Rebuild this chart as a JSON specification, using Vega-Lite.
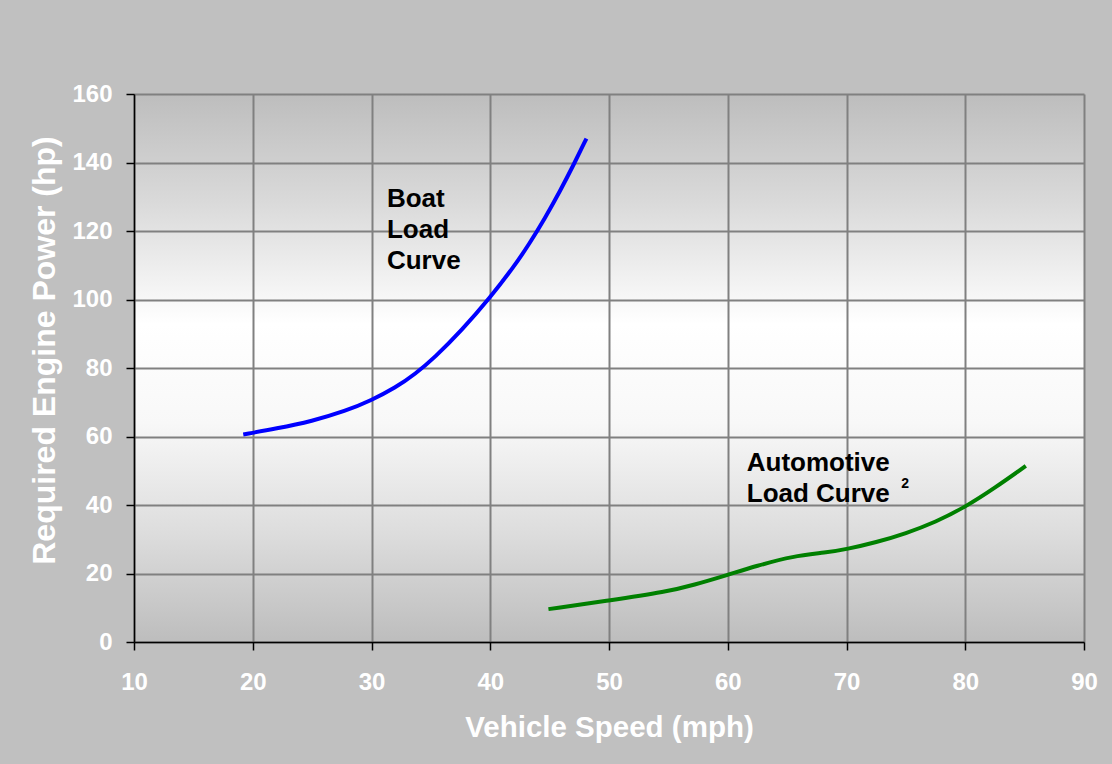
{
  "$schema": "https://vega.github.io/schema/vega-lite/v6.json",
  "width": 950,
  "height": 548,
  "autosize": {"type": "none"},
  "padding": {"left": 134, "top": 94, "right": 28, "bottom": 122},
  "background": "#c0c0c0",
  "config": {
    "font": "Liberation Sans",
    "view": {
      "stroke": null,
      "fill": {
        "gradient": "linear",
        "x1": 0, "y1": 0, "x2": 0, "y2": 1,
        "stops": [
          {"offset": 0, "color": "#bdbdbd"},
          {"offset": 0.2, "color": "#dadada"},
          {"offset": 0.42, "color": "#ffffff"},
          {"offset": 0.6, "color": "#f8f8f8"},
          {"offset": 0.8, "color": "#dddddd"},
          {"offset": 1, "color": "#bdbdbd"}
        ]
      }
    },
    "axis": {
      "domainColor": "#000000",
      "domainWidth": 1.5,
      "tickColor": "#000000",
      "tickWidth": 1.5,
      "tickSize": 8,
      "gridColor": "#808080",
      "gridWidth": 2,
      "gridOpacity": 1,
      "labelFlush": false,
      "labelColor": "#ffffff",
      "labelFont": "Liberation Sans",
      "labelFontWeight": "bold",
      "labelFontSize": 24,
      "titleColor": "#ffffff",
      "titleFont": "Liberation Sans",
      "titleFontWeight": "bold"
    }
  },
  "datasets": {
    "curves": [
      {"speed": 19.2, "power": 60.6, "series": "Boat"},
      {"speed": 22, "power": 62.3, "series": "Boat"},
      {"speed": 25, "power": 64.5, "series": "Boat"},
      {"speed": 27.8, "power": 67.4, "series": "Boat"},
      {"speed": 30, "power": 70.6, "series": "Boat"},
      {"speed": 32, "power": 74.2, "series": "Boat"},
      {"speed": 33.7, "power": 78.3, "series": "Boat"},
      {"speed": 35.3, "power": 83.0, "series": "Boat"},
      {"speed": 37.6, "power": 91.0, "series": "Boat"},
      {"speed": 40, "power": 100.6, "series": "Boat"},
      {"speed": 42, "power": 109.6, "series": "Boat"},
      {"speed": 43.3, "power": 116.3, "series": "Boat"},
      {"speed": 44.6, "power": 123.7, "series": "Boat"},
      {"speed": 45.9, "power": 131.8, "series": "Boat"},
      {"speed": 47, "power": 139.2, "series": "Boat"},
      {"speed": 48.1, "power": 147, "series": "Boat"},
      {"speed": 44.9, "power": 9.6, "series": "Automotive"},
      {"speed": 50, "power": 12.1, "series": "Automotive"},
      {"speed": 54.9, "power": 14.7, "series": "Automotive"},
      {"speed": 57.1, "power": 16.6, "series": "Automotive"},
      {"speed": 60, "power": 19.6, "series": "Automotive"},
      {"speed": 62.4, "power": 22.2, "series": "Automotive"},
      {"speed": 65.5, "power": 25.1, "series": "Automotive"},
      {"speed": 68.3, "power": 26.1, "series": "Automotive"},
      {"speed": 70, "power": 27.1, "series": "Automotive"},
      {"speed": 72.5, "power": 29.1, "series": "Automotive"},
      {"speed": 75, "power": 31.7, "series": "Automotive"},
      {"speed": 77.5, "power": 35, "series": "Automotive"},
      {"speed": 80, "power": 39.4, "series": "Automotive"},
      {"speed": 82.5, "power": 45, "series": "Automotive"},
      {"speed": 85.1, "power": 51.4, "series": "Automotive"}
    ],
    "notes": [
      {"speed": 31.3, "power": 127, "text": "Boat", "size": "big"},
      {"speed": 31.3, "power": 118, "text": "Load", "size": "big"},
      {"speed": 31.3, "power": 109, "text": "Curve", "size": "big"},
      {"speed": 61.6, "power": 49.9, "text": "Automotive", "size": "big"},
      {"speed": 61.6, "power": 40.9, "text": "Load Curve", "size": "big"},
      {"speed": 74.6, "power": 45.0, "text": "2", "size": "small"}
    ]
  },
  "layer": [
    {
      "data": {"name": "curves"},
      "mark": {"type": "line", "strokeWidth": 4, "interpolate": "basis"},
      "encoding": {
        "x": {
          "field": "speed", "type": "quantitative",
          "scale": {"domain": [10, 90], "nice": false, "zero": false},
          "axis": {"values": [10, 20, 30, 40, 50, 60, 70, 80, 90], "title": "Vehicle Speed (mph)", "titleFontSize": 29.5, "labelPadding": 20, "titlePadding": 19}
        },
        "y": {
          "field": "power", "type": "quantitative",
          "scale": {"domain": [0, 160], "nice": false},
          "axis": {"values": [0, 20, 40, 60, 80, 100, 120, 140, 160], "title": "Required Engine Power (hp)", "titleFontSize": 32, "labelPadding": 14, "titlePadding": 10, "titleY": 256}
        },
        "detail": {"field": "series"},
        "color": {
          "field": "series", "type": "nominal",
          "scale": {"domain": ["Boat", "Automotive"], "range": ["#0000ff", "#008000"]},
          "legend": null
        }
      }
    },
    {
      "data": {"name": "notes"},
      "transform": [{"filter": "datum.size == 'big'"}],
      "mark": {"type": "text", "align": "left", "baseline": "alphabetic", "fontSize": 26, "fontWeight": "bold", "color": "#000000", "font": "Liberation Sans"},
      "encoding": {
        "x": {"field": "speed", "type": "quantitative"},
        "y": {"field": "power", "type": "quantitative"},
        "text": {"field": "text"}
      }
    },
    {
      "data": {"name": "notes"},
      "transform": [{"filter": "datum.size == 'small'"}],
      "mark": {"type": "text", "align": "left", "baseline": "alphabetic", "fontSize": 14, "fontWeight": "bold", "color": "#000000", "font": "Liberation Sans"},
      "encoding": {
        "x": {"field": "speed", "type": "quantitative"},
        "y": {"field": "power", "type": "quantitative"},
        "text": {"field": "text"}
      }
    }
  ]
}
